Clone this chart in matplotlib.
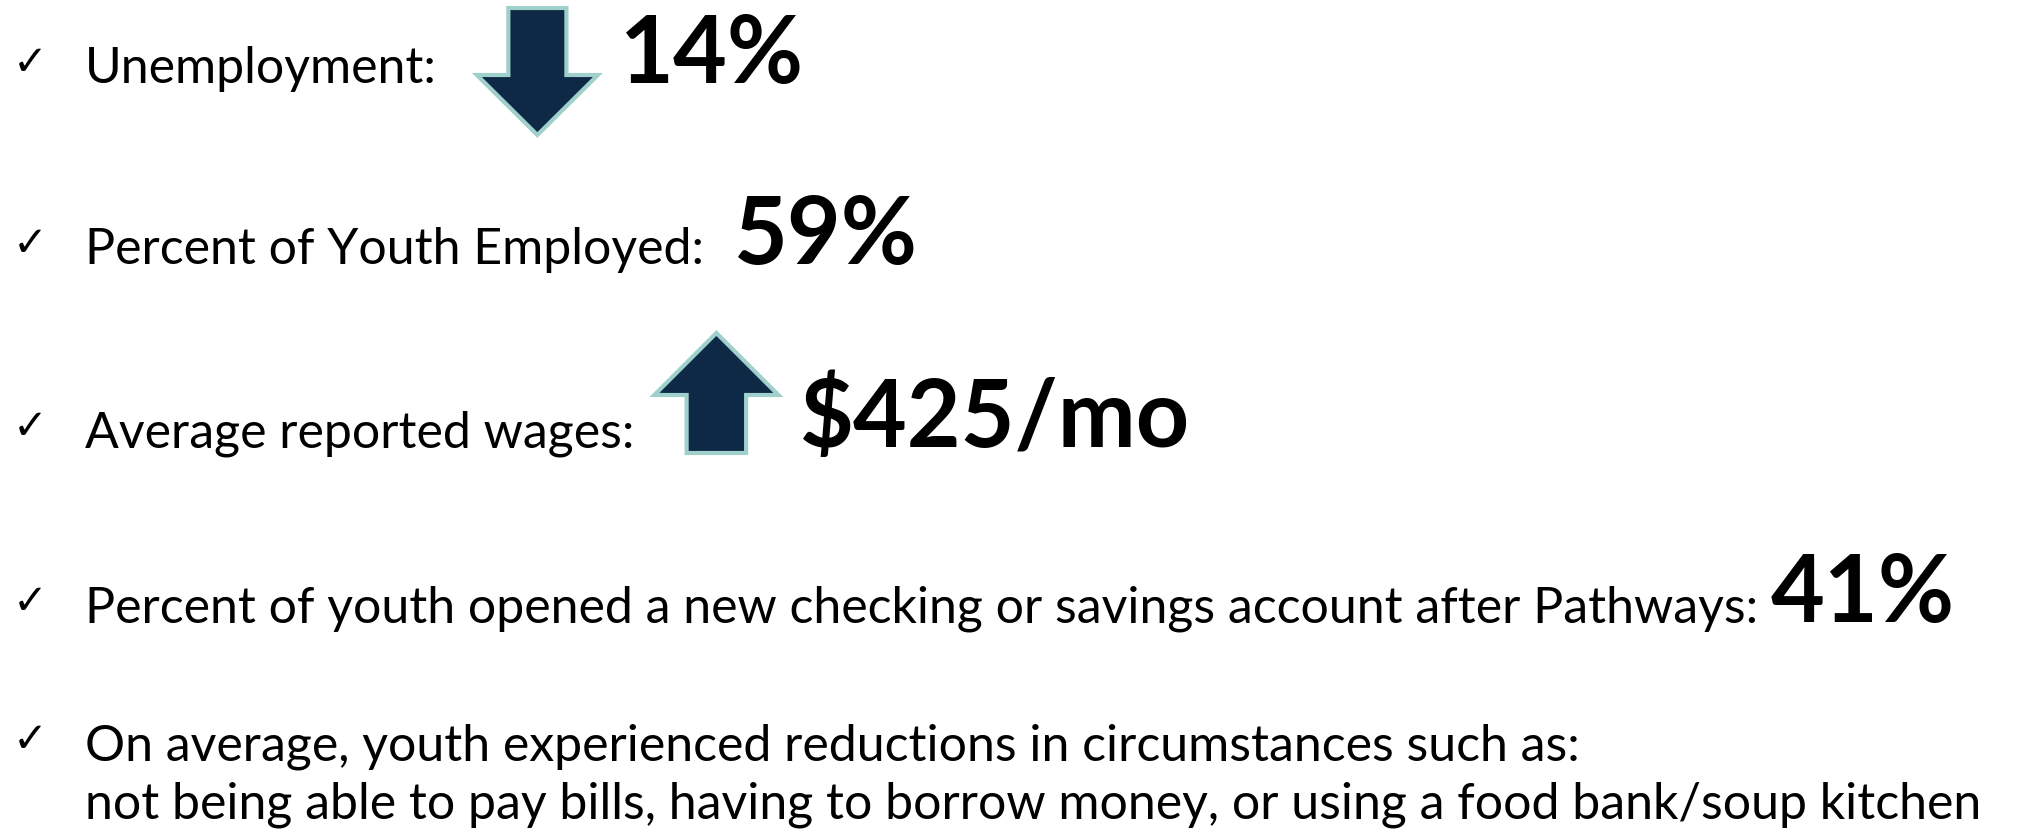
import matplotlib
matplotlib.use("Agg")
import matplotlib.pyplot as plt
from matplotlib.patches import Polygon

# bullet items: label lines, headline figure, arrow direction (None = no arrow)
labels = [["Unemployment:"],
          ["Percent of Youth Employed:"],
          ["Average reported wages:"],
          ["Percent of youth opened a new checking or savings account after Pathways:"],
          ["On average, youth experienced reductions in circumstances such as:",
           "not being able to pay bills, having to borrow money, or using a food bank/soup kitchen"]]
values = ["14%", "59%", "$425/mo", "41%", ""]
arrows = ["down", None, "up", None, None]

NAVY = "#0E2946"
TEAL = "#9FD0CB"
FONT = "Lato"

W, H = 2018, 834
fig = plt.figure(figsize=(W / 100, H / 100), dpi=100)
ax = fig.add_axes([0, 0, 1, 1])
ax.set_xlim(0, W)
ax.set_ylim(H, 0)
ax.axis("off")

baselines = [83, 264, 447, 622, 760]
line_step = 58
label_x = 85
label_fs = 36
value_fs = 67
gap = [40, 30, 20, 12, 0]
arrow_w = [121, 0, 124, 0, 0]

fig.canvas.draw()
r = fig.canvas.get_renderer()

def px_width(t):
    bb = t.get_window_extent(renderer=r)
    return bb.width

for i, lines in enumerate(labels):
    y = baselines[i]
    ax.text(13, y - 8, "\u2713", fontsize=30, family="DejaVu Sans",
            va="baseline", ha="left", color="black")
    for k, ln in enumerate(lines):
        t = ax.text(label_x, y + k * line_step, ln, fontsize=label_fs, family=FONT,
                    va="baseline", ha="left", color="black")
        if k == 0:
            x = label_x + px_width(t) + gap[i]
    if arrows[i] is not None:
        aw = arrow_w[i]
        sw = aw * 0.48
        cx = x + aw / 2
        if arrows[i] == "down":
            top, head, tip = 8, 75, 135
            pts = [(cx - sw / 2, top), (cx + sw / 2, top), (cx + sw / 2, head),
                   (cx + aw / 2, head), (cx, tip), (cx - aw / 2, head),
                   (cx - sw / 2, head)]
        else:
            tip, head, bot = 333, 395, 453
            pts = [(cx, tip), (cx + aw / 2, head), (cx + sw / 2, head),
                   (cx + sw / 2, bot), (cx - sw / 2, bot), (cx - sw / 2, head),
                   (cx - aw / 2, head)]
        ax.add_patch(Polygon(pts, closed=True, facecolor=NAVY, edgecolor=TEAL,
                             linewidth=3, joinstyle="miter"))
        x += aw + 22
    if values[i]:
        ax.text(x, y, values[i], fontsize=value_fs, family=FONT,
                fontweight="bold", va="baseline", ha="left", color="black")

fig.savefig("out.png", dpi=100, facecolor="white")
